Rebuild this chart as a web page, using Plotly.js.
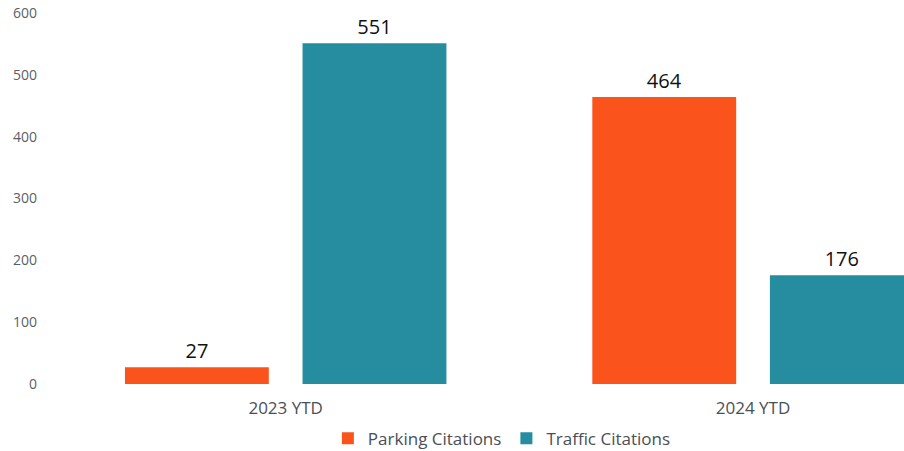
<!DOCTYPE html>
<html>
<head>
<meta charset="utf-8">
<script src="https://cdn.plot.ly/plotly-3.0.1.min.js"></script>
<style>html,body{margin:0;padding:0;background:#fff;}#chart{width:904px;height:451px;}</style>
</head>
<body>
<div id="chart"></div>
<script>
const categories = ["2023 YTD", "2024 YTD"];
const parkingCitations = [27, 464];
const trafficCitations = [551, 176];
const seriesNames = ["Parking Citations", "Traffic Citations"];
const yTicks = [0, 100, 200, 300, 400, 500, 600];

const common = {
  type: "bar",
  x: categories,
  textposition: "outside",
  texttemplate: "%{y}",
  textfont: {family: "Open Sans, sans-serif", size: 20, color: "#111"},
  cliponaxis: false,
  hoverinfo: "skip"
};

const data = [
  Object.assign({}, common, {name: seriesNames[0], y: parkingCitations, marker: {color: "#FA541C"}}),
  Object.assign({}, common, {name: seriesNames[1], y: trafficCitations, marker: {color: "#268CA0"}})
];

const layout = {
  width: 904, height: 451,
  margin: {l: 52, r: 0, t: 13, b: 67},
  paper_bgcolor: "#fff", plot_bgcolor: "#fff",
  barmode: "group",
  bargap: 0.24,
  bargroupgap: 0.19,
  font: {family: "Open Sans, sans-serif", color: "#555"},
  xaxis: {
    type: "category",
    range: [-0.5, 1.323],
    showgrid: false, zeroline: false, showline: false,
    ticks: "",
    tickfont: {size: 17, color: "#4a4f55"},
    ticklabelstandoff: 12
  },
  yaxis: {
    range: [0, 600],
    tickvals: yTicks,
    showgrid: false, zeroline: false, showline: false,
    ticks: "",
    tickfont: {size: 14, color: "#5a5f66"},
    ticklabelstandoff: 14
  },
  showlegend: true,
  legend: {
    orientation: "h",
    x: 0.528, xanchor: "center",
    yref: "container",
    y: 0.027, yanchor: "middle",
    font: {size: 17, color: "#4a4f55"},
    itemwidth: 30,
    traceorder: "normal"
  }
};

Plotly.newPlot("chart", data, layout, {displayModeBar: false, staticPlot: true});
</script>
</body>
</html>
